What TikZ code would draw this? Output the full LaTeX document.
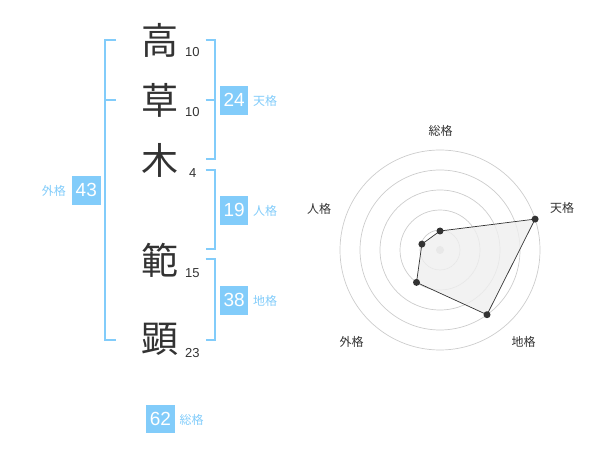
\documentclass[tikz,border=0pt]{standalone}
\usepackage{fontspec}
\setmainfont{Liberation Sans}
\newfontfamily\jp{Noto Sans CJK JP}
\definecolor{kblue}{HTML}{82CCFA}
\definecolor{ktext}{HTML}{333333}
\definecolor{kgrid}{HTML}{CCCCCC}
\definecolor{kfill}{HTML}{EFEFEF}
\begin{document}
\begin{tikzpicture}[x=1pt,y=-1pt,
  kanji/.style={inner sep=0pt,text=ktext,font=\jp\fontsize{37}{37}\selectfont},
  strokes/.style={inner sep=0pt,text=ktext,font=\fontsize{13}{13}\selectfont},
  valbox/.style={fill=kblue,text=white,inner sep=0pt,minimum width=28.5pt,minimum height=28.5pt,font=\fontsize{19}{19}\selectfont},
  kaku/.style={inner sep=0pt,text=kblue,font=\jp\fontsize{12}{12}\selectfont},
  brk/.style={draw=kblue,line width=2pt},
  rlabel/.style={inner sep=0pt,text=ktext,font=\jp\fontsize{12}{12}\selectfont},
  ring/.style={draw=kgrid,line width=0.7pt},
  dot/.style={fill=ktext}]
\useasboundingbox (0,0) rectangle (600,470);
% kanji
\node[kanji] (k1) at (160,40) {高};
\node[kanji] (k2) at (160,100) {草};
\node[kanji] (k3) at (160,160) {木};
\node[kanji] (k4) at (160,260) {範};
\node[kanji] (k5) at (160,339) {顕};
% stroke counts
\node[strokes] (s1) at (192.3,52.3) {10};
\node[strokes] (s2) at (192.3,112.3) {10};
\node[strokes] (s3) at (192.7,172.7) {4};
\node[strokes] (s4) at (192.3,272.7) {15};
\node[strokes] (s5) at (192.3,352.7) {23};
% left bracket (gaikaku)
\draw[brk] (116,40) -- (105,40) -- (105,340) -- (116,340);
\draw[brk] (105,100) -- (116,100);
\node[valbox] (b43) at (86.3,190.3) {43};
\node[kaku,anchor=east] (l43) at (66,191) {外格};
% tenkaku
\draw[brk] (205.5,40) -- (215,40) -- (215,159.5) -- (205.5,159.5);
\draw[brk] (205.5,100) -- (215,100);
\node[valbox] (b24) at (234.2,100.3) {24};
\node[kaku,anchor=west] (l24) at (253,101) {天格};
% jinkaku
\draw[brk] (205.5,170) -- (215,170) -- (215,249.5) -- (205.5,249.5);
\node[valbox] (b19) at (234.2,210.3) {19};
\node[kaku,anchor=west] (l19) at (253,211) {人格};
% chikaku
\draw[brk] (205.5,259.5) -- (215,259.5) -- (215,340) -- (205.5,340);
\node[valbox] (b38) at (234.2,300.3) {38};
\node[kaku,anchor=west] (l38) at (253,301) {地格};
% sokaku
\node[valbox] (b62) at (160.5,419.2) {62};
\node[kaku,anchor=west] (l62) at (179.5,420) {総格};
% radar
\coordinate (c) at (440,250);
\foreach \r in {20,40,60,80,100} \draw[ring] (c) circle[radius=\r pt];
\fill[kgrid] (c) circle[radius=4pt];
\coordinate (pso) at (440,231);
\coordinate (pten) at (535.1,219.1);
\coordinate (pchi) at (487.0,314.7);
\coordinate (pgai) at (416.5,282.4);
\coordinate (pjin) at (421.9,244.1);
\filldraw[fill=kfill,fill opacity=0.8,draw=ktext,line width=0.7pt] (pso) -- (pten) -- (pchi) -- (pgai) -- (pjin) -- cycle;
\foreach \p in {pso,pten,pchi,pgai,pjin} \fill[dot] (\p) circle[radius=3.5pt];
\node[rlabel] (rso) at (440.7,130.7) {総格};
\node[rlabel] (rten) at (562,208) {天格};
\node[rlabel] (rjin) at (319,208.7) {人格};
\node[rlabel] (rgai) at (351.7,341.7) {外格};
\node[rlabel] (rchi) at (523.7,341.7) {地格};
\end{tikzpicture}
\end{document}
